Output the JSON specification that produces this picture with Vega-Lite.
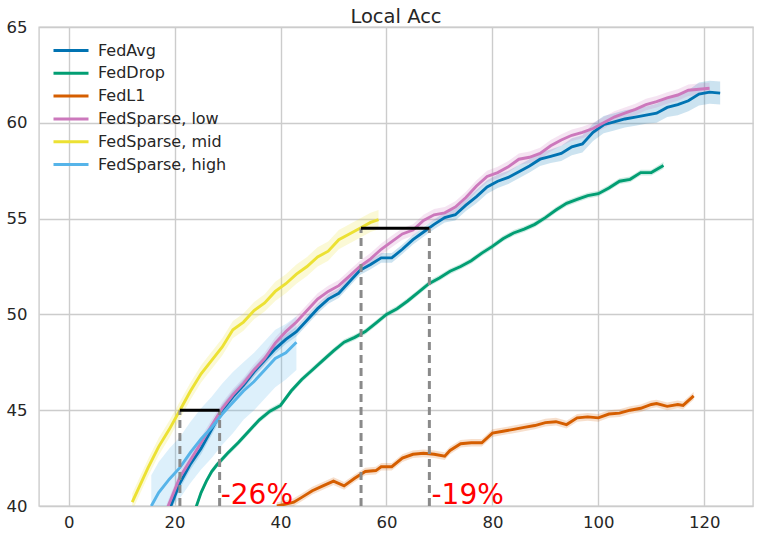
{
  "$schema": "https://vega.github.io/schema/vega-lite/v6.json",
  "width": 714,
  "height": 479,
  "autosize": {"type": "none"},
  "padding": {"left": 39, "top": 27, "right": 7, "bottom": 33},
  "background": "white",
  "title": {"text": "Local Acc", "fontSize": 19.5, "font": "DejaVu Sans", "fontWeight": "normal", "color": "#262626", "offset": 0, "dy": 8, "frame": "group"},
  "config": {
    "view": {"stroke": "#cccccc", "strokeWidth": 1.4},
    "axis": {"grid": true, "gridColor": "#cccccc", "gridWidth": 1.4, "domain": false, "ticks": false, "labelFont": "DejaVu Sans", "labelFontSize": 16.5, "labelColor": "#262626", "title": null},
    "legend": {"labelFont": "DejaVu Sans", "labelFontSize": 16, "labelColor": "#262626"}
  },
  "resolve": {"legend": {"color": "independent"}},
  "datasets": {
    "series": [
      {"s":"FedAvg","x":19,"y":39.8,"lo":39.5,"hi":40.1},
      {"s":"FedAvg","x":21,"y":41.2,"lo":40.9,"hi":41.5},
      {"s":"FedAvg","x":23,"y":42.2,"lo":41.9,"hi":42.5},
      {"s":"FedAvg","x":25,"y":43.0,"lo":42.7,"hi":43.3},
      {"s":"FedAvg","x":27,"y":44.0,"lo":43.7,"hi":44.3},
      {"s":"FedAvg","x":29,"y":45.0,"lo":44.7,"hi":45.3},
      {"s":"FedAvg","x":31,"y":45.7,"lo":45.4,"hi":46.0},
      {"s":"FedAvg","x":33,"y":46.3,"lo":46.0,"hi":46.6},
      {"s":"FedAvg","x":35,"y":47.0,"lo":46.75,"hi":47.25},
      {"s":"FedAvg","x":37,"y":47.6,"lo":47.35,"hi":47.85},
      {"s":"FedAvg","x":39,"y":48.2,"lo":47.95,"hi":48.45},
      {"s":"FedAvg","x":41,"y":48.7,"lo":48.45,"hi":48.95},
      {"s":"FedAvg","x":43,"y":49.1,"lo":48.85,"hi":49.35},
      {"s":"FedAvg","x":45,"y":49.7,"lo":49.45,"hi":49.95},
      {"s":"FedAvg","x":47,"y":50.3,"lo":50.05,"hi":50.55},
      {"s":"FedAvg","x":49,"y":50.8,"lo":50.55,"hi":51.05},
      {"s":"FedAvg","x":51,"y":51.1,"lo":50.85,"hi":51.35},
      {"s":"FedAvg","x":53,"y":51.7,"lo":51.45,"hi":51.95},
      {"s":"FedAvg","x":55,"y":52.3,"lo":52.05,"hi":52.55},
      {"s":"FedAvg","x":57,"y":52.6,"lo":52.35,"hi":52.85},
      {"s":"FedAvg","x":59,"y":52.95,"lo":52.7,"hi":53.2},
      {"s":"FedAvg","x":61,"y":52.95,"lo":52.7,"hi":53.2},
      {"s":"FedAvg","x":63,"y":53.4,"lo":53.15,"hi":53.65},
      {"s":"FedAvg","x":65,"y":53.9,"lo":53.65,"hi":54.15},
      {"s":"FedAvg","x":67,"y":54.3,"lo":54.05,"hi":54.55},
      {"s":"FedAvg","x":69,"y":54.7,"lo":54.45,"hi":54.95},
      {"s":"FedAvg","x":71,"y":55.05,"lo":54.8,"hi":55.3},
      {"s":"FedAvg","x":73,"y":55.2,"lo":54.9,"hi":55.5},
      {"s":"FedAvg","x":75,"y":55.7,"lo":55.4,"hi":56.0},
      {"s":"FedAvg","x":77,"y":56.15,"lo":55.8,"hi":56.5},
      {"s":"FedAvg","x":79,"y":56.65,"lo":56.3,"hi":57.0},
      {"s":"FedAvg","x":81,"y":56.95,"lo":56.6,"hi":57.3},
      {"s":"FedAvg","x":83,"y":57.15,"lo":56.8,"hi":57.5},
      {"s":"FedAvg","x":85,"y":57.45,"lo":57.1,"hi":57.8},
      {"s":"FedAvg","x":87,"y":57.75,"lo":57.4,"hi":58.1},
      {"s":"FedAvg","x":89,"y":58.1,"lo":57.75,"hi":58.45},
      {"s":"FedAvg","x":91,"y":58.25,"lo":57.9,"hi":58.6},
      {"s":"FedAvg","x":93,"y":58.4,"lo":58.0,"hi":58.8},
      {"s":"FedAvg","x":95,"y":58.75,"lo":58.3,"hi":59.2},
      {"s":"FedAvg","x":97,"y":58.9,"lo":58.45,"hi":59.35},
      {"s":"FedAvg","x":99,"y":59.5,"lo":59.05,"hi":59.95},
      {"s":"FedAvg","x":101,"y":59.9,"lo":59.45,"hi":60.35},
      {"s":"FedAvg","x":103,"y":60.05,"lo":59.6,"hi":60.5},
      {"s":"FedAvg","x":105,"y":60.2,"lo":59.75,"hi":60.65},
      {"s":"FedAvg","x":107,"y":60.3,"lo":59.85,"hi":60.75},
      {"s":"FedAvg","x":109,"y":60.4,"lo":59.95,"hi":60.85},
      {"s":"FedAvg","x":111,"y":60.5,"lo":60.0,"hi":61.0},
      {"s":"FedAvg","x":113,"y":60.8,"lo":60.3,"hi":61.3},
      {"s":"FedAvg","x":115,"y":60.95,"lo":60.4,"hi":61.5},
      {"s":"FedAvg","x":117,"y":61.15,"lo":60.6,"hi":61.7},
      {"s":"FedAvg","x":119,"y":61.5,"lo":60.9,"hi":62.1},
      {"s":"FedAvg","x":121,"y":61.6,"lo":61.0,"hi":62.2},
      {"s":"FedAvg","x":123,"y":61.55,"lo":60.95,"hi":62.15},

      {"s":"FedDrop","x":24,"y":39.9,"lo":39.75,"hi":40.05},
      {"s":"FedDrop","x":25,"y":40.7,"lo":40.55,"hi":40.85},
      {"s":"FedDrop","x":26,"y":41.3,"lo":41.15,"hi":41.45},
      {"s":"FedDrop","x":27,"y":41.8,"lo":41.65,"hi":41.95},
      {"s":"FedDrop","x":28,"y":42.15,"lo":42.0,"hi":42.3},
      {"s":"FedDrop","x":30,"y":42.75,"lo":42.6,"hi":42.9},
      {"s":"FedDrop","x":32,"y":43.3,"lo":43.15,"hi":43.45},
      {"s":"FedDrop","x":34,"y":43.9,"lo":43.75,"hi":44.05},
      {"s":"FedDrop","x":36,"y":44.5,"lo":44.35,"hi":44.65},
      {"s":"FedDrop","x":38,"y":44.95,"lo":44.8,"hi":45.1},
      {"s":"FedDrop","x":40,"y":45.25,"lo":45.1,"hi":45.4},
      {"s":"FedDrop","x":42,"y":46.0,"lo":45.85,"hi":46.15},
      {"s":"FedDrop","x":44,"y":46.6,"lo":46.45,"hi":46.75},
      {"s":"FedDrop","x":46,"y":47.1,"lo":46.95,"hi":47.25},
      {"s":"FedDrop","x":48,"y":47.6,"lo":47.45,"hi":47.75},
      {"s":"FedDrop","x":50,"y":48.1,"lo":47.95,"hi":48.25},
      {"s":"FedDrop","x":52,"y":48.55,"lo":48.4,"hi":48.7},
      {"s":"FedDrop","x":54,"y":48.8,"lo":48.65,"hi":48.95},
      {"s":"FedDrop","x":56,"y":49.1,"lo":48.95,"hi":49.25},
      {"s":"FedDrop","x":58,"y":49.55,"lo":49.4,"hi":49.7},
      {"s":"FedDrop","x":60,"y":50.0,"lo":49.85,"hi":50.15},
      {"s":"FedDrop","x":62,"y":50.3,"lo":50.15,"hi":50.45},
      {"s":"FedDrop","x":64,"y":50.7,"lo":50.55,"hi":50.85},
      {"s":"FedDrop","x":66,"y":51.15,"lo":51.0,"hi":51.3},
      {"s":"FedDrop","x":68,"y":51.6,"lo":51.45,"hi":51.75},
      {"s":"FedDrop","x":70,"y":51.9,"lo":51.75,"hi":52.05},
      {"s":"FedDrop","x":72,"y":52.25,"lo":52.1,"hi":52.4},
      {"s":"FedDrop","x":74,"y":52.5,"lo":52.35,"hi":52.65},
      {"s":"FedDrop","x":76,"y":52.8,"lo":52.65,"hi":52.95},
      {"s":"FedDrop","x":78,"y":53.2,"lo":53.05,"hi":53.35},
      {"s":"FedDrop","x":80,"y":53.55,"lo":53.4,"hi":53.7},
      {"s":"FedDrop","x":82,"y":53.95,"lo":53.8,"hi":54.1},
      {"s":"FedDrop","x":84,"y":54.25,"lo":54.1,"hi":54.4},
      {"s":"FedDrop","x":86,"y":54.45,"lo":54.3,"hi":54.6},
      {"s":"FedDrop","x":88,"y":54.7,"lo":54.55,"hi":54.85},
      {"s":"FedDrop","x":90,"y":55.05,"lo":54.9,"hi":55.2},
      {"s":"FedDrop","x":92,"y":55.45,"lo":55.3,"hi":55.6},
      {"s":"FedDrop","x":94,"y":55.8,"lo":55.65,"hi":55.95},
      {"s":"FedDrop","x":96,"y":56.0,"lo":55.85,"hi":56.15},
      {"s":"FedDrop","x":98,"y":56.2,"lo":56.05,"hi":56.35},
      {"s":"FedDrop","x":100,"y":56.3,"lo":56.15,"hi":56.45},
      {"s":"FedDrop","x":102,"y":56.6,"lo":56.45,"hi":56.75},
      {"s":"FedDrop","x":104,"y":56.95,"lo":56.8,"hi":57.1},
      {"s":"FedDrop","x":106,"y":57.05,"lo":56.9,"hi":57.2},
      {"s":"FedDrop","x":108,"y":57.4,"lo":57.25,"hi":57.55},
      {"s":"FedDrop","x":110,"y":57.4,"lo":57.25,"hi":57.55},
      {"s":"FedDrop","x":112.3,"y":57.77,"lo":57.6,"hi":57.95},

      {"s":"FedL1","x":39.3,"y":40.0,"lo":39.8,"hi":40.2},
      {"s":"FedL1","x":41,"y":40.1,"lo":39.9,"hi":40.3},
      {"s":"FedL1","x":42.5,"y":40.2,"lo":40.0,"hi":40.4},
      {"s":"FedL1","x":44,"y":40.45,"lo":40.25,"hi":40.65},
      {"s":"FedL1","x":46,"y":40.8,"lo":40.6,"hi":41.0},
      {"s":"FedL1","x":48,"y":41.05,"lo":40.85,"hi":41.25},
      {"s":"FedL1","x":50,"y":41.3,"lo":41.1,"hi":41.5},
      {"s":"FedL1","x":52,"y":41.05,"lo":40.85,"hi":41.25},
      {"s":"FedL1","x":54,"y":41.45,"lo":41.25,"hi":41.65},
      {"s":"FedL1","x":56,"y":41.8,"lo":41.6,"hi":42.0},
      {"s":"FedL1","x":58,"y":41.85,"lo":41.65,"hi":42.05},
      {"s":"FedL1","x":59,"y":42.05,"lo":41.85,"hi":42.25},
      {"s":"FedL1","x":61,"y":42.05,"lo":41.85,"hi":42.25},
      {"s":"FedL1","x":63,"y":42.5,"lo":42.3,"hi":42.7},
      {"s":"FedL1","x":65,"y":42.7,"lo":42.5,"hi":42.9},
      {"s":"FedL1","x":67,"y":42.75,"lo":42.55,"hi":42.95},
      {"s":"FedL1","x":69,"y":42.7,"lo":42.5,"hi":42.9},
      {"s":"FedL1","x":71,"y":42.6,"lo":42.4,"hi":42.8},
      {"s":"FedL1","x":72,"y":42.9,"lo":42.7,"hi":43.1},
      {"s":"FedL1","x":74,"y":43.25,"lo":43.05,"hi":43.45},
      {"s":"FedL1","x":76,"y":43.3,"lo":43.1,"hi":43.5},
      {"s":"FedL1","x":78,"y":43.3,"lo":43.1,"hi":43.5},
      {"s":"FedL1","x":80,"y":43.8,"lo":43.6,"hi":44.0},
      {"s":"FedL1","x":82,"y":43.9,"lo":43.7,"hi":44.1},
      {"s":"FedL1","x":84,"y":44.0,"lo":43.8,"hi":44.2},
      {"s":"FedL1","x":86,"y":44.1,"lo":43.9,"hi":44.3},
      {"s":"FedL1","x":88,"y":44.2,"lo":44.0,"hi":44.4},
      {"s":"FedL1","x":90,"y":44.35,"lo":44.15,"hi":44.55},
      {"s":"FedL1","x":92,"y":44.4,"lo":44.2,"hi":44.6},
      {"s":"FedL1","x":94,"y":44.25,"lo":44.05,"hi":44.45},
      {"s":"FedL1","x":96,"y":44.6,"lo":44.4,"hi":44.8},
      {"s":"FedL1","x":98,"y":44.65,"lo":44.45,"hi":44.85},
      {"s":"FedL1","x":100,"y":44.6,"lo":44.4,"hi":44.8},
      {"s":"FedL1","x":102,"y":44.8,"lo":44.6,"hi":45.0},
      {"s":"FedL1","x":104,"y":44.85,"lo":44.65,"hi":45.05},
      {"s":"FedL1","x":106,"y":45.0,"lo":44.8,"hi":45.2},
      {"s":"FedL1","x":108,"y":45.1,"lo":44.9,"hi":45.3},
      {"s":"FedL1","x":110,"y":45.3,"lo":45.1,"hi":45.5},
      {"s":"FedL1","x":111,"y":45.35,"lo":45.15,"hi":45.55},
      {"s":"FedL1","x":113,"y":45.2,"lo":45.0,"hi":45.4},
      {"s":"FedL1","x":115,"y":45.3,"lo":45.1,"hi":45.5},
      {"s":"FedL1","x":116,"y":45.25,"lo":45.05,"hi":45.45},
      {"s":"FedL1","x":117,"y":45.5,"lo":45.3,"hi":45.7},
      {"s":"FedL1","x":118,"y":45.75,"lo":45.55,"hi":45.95},

      {"s":"FedSparse, low","x":18.5,"y":39.8,"lo":39.5,"hi":40.1},
      {"s":"FedSparse, low","x":21,"y":41.5,"lo":41.2,"hi":41.8},
      {"s":"FedSparse, low","x":23,"y":42.4,"lo":42.1,"hi":42.7},
      {"s":"FedSparse, low","x":25,"y":43.3,"lo":43.0,"hi":43.6},
      {"s":"FedSparse, low","x":27,"y":44.2,"lo":43.9,"hi":44.5},
      {"s":"FedSparse, low","x":29,"y":45.1,"lo":44.8,"hi":45.4},
      {"s":"FedSparse, low","x":31,"y":45.8,"lo":45.5,"hi":46.1},
      {"s":"FedSparse, low","x":33,"y":46.4,"lo":46.1,"hi":46.7},
      {"s":"FedSparse, low","x":35,"y":47.1,"lo":46.8,"hi":47.4},
      {"s":"FedSparse, low","x":37,"y":47.7,"lo":47.4,"hi":48.0},
      {"s":"FedSparse, low","x":39,"y":48.5,"lo":48.2,"hi":48.8},
      {"s":"FedSparse, low","x":41,"y":49.1,"lo":48.8,"hi":49.4},
      {"s":"FedSparse, low","x":43,"y":49.6,"lo":49.3,"hi":49.9},
      {"s":"FedSparse, low","x":45,"y":50.2,"lo":49.9,"hi":50.5},
      {"s":"FedSparse, low","x":47,"y":50.8,"lo":50.5,"hi":51.1},
      {"s":"FedSparse, low","x":49,"y":51.2,"lo":50.9,"hi":51.5},
      {"s":"FedSparse, low","x":51,"y":51.5,"lo":51.2,"hi":51.8},
      {"s":"FedSparse, low","x":53,"y":52.0,"lo":51.7,"hi":52.3},
      {"s":"FedSparse, low","x":55,"y":52.5,"lo":52.2,"hi":52.8},
      {"s":"FedSparse, low","x":57,"y":52.9,"lo":52.6,"hi":53.2},
      {"s":"FedSparse, low","x":59,"y":53.4,"lo":53.1,"hi":53.7},
      {"s":"FedSparse, low","x":61,"y":53.8,"lo":53.5,"hi":54.1},
      {"s":"FedSparse, low","x":63,"y":54.2,"lo":53.9,"hi":54.5},
      {"s":"FedSparse, low","x":65,"y":54.4,"lo":54.1,"hi":54.7},
      {"s":"FedSparse, low","x":67,"y":54.9,"lo":54.6,"hi":55.2},
      {"s":"FedSparse, low","x":69,"y":55.2,"lo":54.9,"hi":55.5},
      {"s":"FedSparse, low","x":71,"y":55.3,"lo":55.0,"hi":55.6},
      {"s":"FedSparse, low","x":73,"y":55.6,"lo":55.3,"hi":55.9},
      {"s":"FedSparse, low","x":75,"y":56.1,"lo":55.8,"hi":56.4},
      {"s":"FedSparse, low","x":77,"y":56.7,"lo":56.4,"hi":57.0},
      {"s":"FedSparse, low","x":79,"y":57.2,"lo":56.9,"hi":57.5},
      {"s":"FedSparse, low","x":81,"y":57.4,"lo":57.1,"hi":57.7},
      {"s":"FedSparse, low","x":83,"y":57.7,"lo":57.4,"hi":58.0},
      {"s":"FedSparse, low","x":85,"y":58.1,"lo":57.8,"hi":58.4},
      {"s":"FedSparse, low","x":87,"y":58.2,"lo":57.9,"hi":58.5},
      {"s":"FedSparse, low","x":89,"y":58.4,"lo":58.1,"hi":58.7},
      {"s":"FedSparse, low","x":91,"y":58.8,"lo":58.5,"hi":59.1},
      {"s":"FedSparse, low","x":93,"y":59.1,"lo":58.8,"hi":59.4},
      {"s":"FedSparse, low","x":95,"y":59.35,"lo":59.05,"hi":59.65},
      {"s":"FedSparse, low","x":97,"y":59.5,"lo":59.2,"hi":59.8},
      {"s":"FedSparse, low","x":99,"y":59.7,"lo":59.4,"hi":60.0},
      {"s":"FedSparse, low","x":101,"y":60.0,"lo":59.7,"hi":60.3},
      {"s":"FedSparse, low","x":103,"y":60.3,"lo":60.0,"hi":60.6},
      {"s":"FedSparse, low","x":105,"y":60.5,"lo":60.2,"hi":60.8},
      {"s":"FedSparse, low","x":107,"y":60.7,"lo":60.4,"hi":61.0},
      {"s":"FedSparse, low","x":109,"y":60.95,"lo":60.65,"hi":61.25},
      {"s":"FedSparse, low","x":111,"y":61.1,"lo":60.8,"hi":61.4},
      {"s":"FedSparse, low","x":113,"y":61.3,"lo":61.0,"hi":61.6},
      {"s":"FedSparse, low","x":115,"y":61.45,"lo":61.15,"hi":61.75},
      {"s":"FedSparse, low","x":117,"y":61.7,"lo":61.4,"hi":62.0},
      {"s":"FedSparse, low","x":119,"y":61.75,"lo":61.45,"hi":62.05},
      {"s":"FedSparse, low","x":121,"y":61.8,"lo":61.5,"hi":62.1},

      {"s":"FedSparse, mid","x":12,"y":40.2,"lo":39.75,"hi":40.65},
      {"s":"FedSparse, mid","x":13,"y":40.8,"lo":40.35,"hi":41.25},
      {"s":"FedSparse, mid","x":15,"y":42.0,"lo":41.55,"hi":42.45},
      {"s":"FedSparse, mid","x":17,"y":43.1,"lo":42.65,"hi":43.55},
      {"s":"FedSparse, mid","x":19,"y":44.0,"lo":43.55,"hi":44.45},
      {"s":"FedSparse, mid","x":21,"y":45.0,"lo":44.55,"hi":45.45},
      {"s":"FedSparse, mid","x":23,"y":46.0,"lo":45.55,"hi":46.45},
      {"s":"FedSparse, mid","x":25,"y":46.9,"lo":46.45,"hi":47.35},
      {"s":"FedSparse, mid","x":27,"y":47.6,"lo":47.15,"hi":48.05},
      {"s":"FedSparse, mid","x":29,"y":48.3,"lo":47.85,"hi":48.75},
      {"s":"FedSparse, mid","x":31,"y":49.2,"lo":48.75,"hi":49.65},
      {"s":"FedSparse, mid","x":33,"y":49.6,"lo":49.15,"hi":50.05},
      {"s":"FedSparse, mid","x":35,"y":50.2,"lo":49.75,"hi":50.65},
      {"s":"FedSparse, mid","x":37,"y":50.6,"lo":50.15,"hi":51.05},
      {"s":"FedSparse, mid","x":39,"y":51.2,"lo":50.7,"hi":51.7},
      {"s":"FedSparse, mid","x":41,"y":51.6,"lo":51.1,"hi":52.1},
      {"s":"FedSparse, mid","x":43,"y":52.1,"lo":51.6,"hi":52.6},
      {"s":"FedSparse, mid","x":45,"y":52.5,"lo":52.0,"hi":53.0},
      {"s":"FedSparse, mid","x":47,"y":53.0,"lo":52.5,"hi":53.5},
      {"s":"FedSparse, mid","x":49,"y":53.3,"lo":52.8,"hi":53.8},
      {"s":"FedSparse, mid","x":51,"y":53.9,"lo":53.4,"hi":54.4},
      {"s":"FedSparse, mid","x":53,"y":54.2,"lo":53.7,"hi":54.7},
      {"s":"FedSparse, mid","x":55,"y":54.5,"lo":54.0,"hi":55.0},
      {"s":"FedSparse, mid","x":57,"y":54.8,"lo":54.3,"hi":55.3},
      {"s":"FedSparse, mid","x":58.5,"y":54.95,"lo":54.45,"hi":55.45},

      {"s":"FedSparse, high","x":15.6,"y":40.0,"lo":38.4,"hi":41.6},
      {"s":"FedSparse, high","x":17,"y":40.7,"lo":39.1,"hi":42.3},
      {"s":"FedSparse, high","x":19,"y":41.4,"lo":39.8,"hi":43.0},
      {"s":"FedSparse, high","x":21,"y":42.0,"lo":40.4,"hi":43.6},
      {"s":"FedSparse, high","x":23,"y":42.8,"lo":41.2,"hi":44.4},
      {"s":"FedSparse, high","x":25,"y":43.5,"lo":41.9,"hi":45.1},
      {"s":"FedSparse, high","x":27,"y":44.1,"lo":42.5,"hi":45.7},
      {"s":"FedSparse, high","x":29,"y":44.8,"lo":43.2,"hi":46.4},
      {"s":"FedSparse, high","x":31,"y":45.4,"lo":43.8,"hi":47.0},
      {"s":"FedSparse, high","x":33,"y":46.0,"lo":44.5,"hi":47.5},
      {"s":"FedSparse, high","x":35,"y":46.5,"lo":45.0,"hi":48.0},
      {"s":"FedSparse, high","x":37,"y":47.1,"lo":45.6,"hi":48.6},
      {"s":"FedSparse, high","x":39,"y":47.7,"lo":46.2,"hi":49.2},
      {"s":"FedSparse, high","x":41,"y":48.0,"lo":46.6,"hi":49.5},
      {"s":"FedSparse, high","x":43,"y":48.55,"lo":47.1,"hi":49.9}
    ],
    "vlines": [
      {"x":21.0,"y":40,"y2":45},
      {"x":28.5,"y":40,"y2":45},
      {"x":55.2,"y":40,"y2":54.5},
      {"x":68.1,"y":40,"y2":54.5}
    ],
    "hlines": [
      {"x":21.0,"x2":28.5,"y":45},
      {"x":55.2,"x2":68.1,"y":54.5}
    ],
    "labels": [
      {"x":28.7,"y":40.1,"t":"-26%"},
      {"x":68.5,"y":40.1,"t":"-19%"}
    ]
  },
  "encoding": {
    "x": {"type": "quantitative", "scale": {"domain": [-5.6, 129.2], "nice": false, "zero": false},
          "axis": {"values": [0,20,40,60,80,100,120], "labelPadding": 8}},
    "y": {"type": "quantitative", "scale": {"domain": [40, 65], "nice": false, "zero": false},
          "axis": {"values": [40,45,50,55,60,65], "labelPadding": 12}}
  },
  "layer": [
    {
      "data": {"name": "series"},
      "mark": {"type": "area", "opacity": 0.2, "clip": true},
      "encoding": {
        "x": {"field": "x", "type": "quantitative"},
        "y": {"field": "lo", "type": "quantitative"},
        "y2": {"field": "hi"},
        "color": {"field": "s", "type": "nominal", "legend": null,
                 "scale": {"domain": ["FedAvg","FedDrop","FedL1","FedSparse, low","FedSparse, mid","FedSparse, high"],
                           "range": ["#0173b2","#029e73","#d55e00","#cc78bc","#ece133","#56b4e9"]}}
      }
    },
    {
      "data": {"name": "series"},
      "mark": {"type": "line", "strokeWidth": 2.9, "clip": true},
      "encoding": {
        "x": {"field": "x", "type": "quantitative"},
        "y": {"field": "y", "type": "quantitative"},
        "color": {"field": "s", "type": "nominal",
                  "scale": {"domain": ["FedAvg","FedDrop","FedL1","FedSparse, low","FedSparse, mid","FedSparse, high"],
                            "range": ["#0173b2","#029e73","#d55e00","#cc78bc","#ece133","#56b4e9"]},
                  "legend": {"title": null, "orient": "none", "legendX": 13, "legendY": 15.5, "symbolType": "stroke",
                             "symbolSize": 1225, "symbolStrokeWidth": 3, "symbolOpacity": 1, "labelOffset": 8,
                             "clipHeight": 16, "rowPadding": 6.8, "padding": 0}}
      }
    },
    {
      "data": {"name": "vlines"},
      "mark": {"type": "rule", "color": "#8a8a8a", "strokeWidth": 3, "strokeDash": [8, 5]},
      "encoding": {
        "x": {"field": "x", "type": "quantitative"},
        "y": {"field": "y", "type": "quantitative"},
        "y2": {"field": "y2"}
      }
    },
    {
      "data": {"name": "hlines"},
      "mark": {"type": "rule", "color": "black", "strokeWidth": 3},
      "encoding": {
        "x": {"field": "x", "type": "quantitative"},
        "x2": {"field": "x2"},
        "y": {"field": "y", "type": "quantitative"}
      }
    },
    {
      "data": {"name": "labels"},
      "mark": {"type": "text", "color": "#ff0000", "fontSize": 28, "font": "DejaVu Sans", "align": "left", "baseline": "alphabetic"},
      "encoding": {
        "x": {"field": "x", "type": "quantitative"},
        "y": {"field": "y", "type": "quantitative"},
        "text": {"field": "t"}
      }
    }
  ]
}
